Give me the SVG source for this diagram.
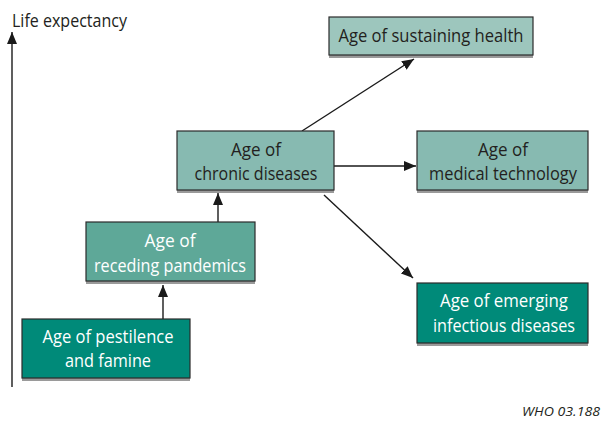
<svg xmlns="http://www.w3.org/2000/svg" width="602" height="423" viewBox="0 0 602 423">
<style>
text{font-family:"Open Sans","Noto Sans","Liberation Sans",sans-serif;font-size:19px}
.b{stroke:#2b2b2b;stroke-width:1.2}
.sh{fill:#9a9a9a}
.c1{fill:#9dc6bd}
.c2{fill:#87bab1}
.c3{fill:#5ea898}
.c4{fill:#008a79}
.dk{fill:#231f20;text-anchor:middle}
.lt{fill:#ffffff;text-anchor:middle}
.ln{stroke:#1a1a1a;stroke-width:1.4;fill:none;marker-end:url(#ah)}
</style>
<defs>
<marker id="ah" viewBox="0 0 12 10" refX="12" refY="5" markerWidth="12" markerHeight="10" markerUnits="userSpaceOnUse" orient="auto">
<path d="M0,0 L12,5 L0,10 Z" fill="#1a1a1a"/>
</marker>
</defs>
<rect width="602" height="423" fill="#ffffff"/>
<g id="axis">
<line x1="12" y1="387" x2="12" y2="32" class="ln"/>
<text x="12" y="27" fill="#231f20" textLength="115" lengthAdjust="spacingAndGlyphs">Life expectancy</text>
</g>
<g id="connectors">
<line x1="163" y1="319" x2="163" y2="285" class="ln"/>
<line x1="218" y1="222" x2="218" y2="193" class="ln"/>
<line x1="302" y1="131" x2="414" y2="59" class="ln"/>
<line x1="334" y1="166" x2="416" y2="166" class="ln"/>
<line x1="324" y1="195" x2="413" y2="278" class="ln"/>
</g>
<g id="n-sustaining">
<rect x="329" y="20" width="204" height="38" class="sh"/>
<rect x="329" y="17" width="204" height="38" class="c1 b"/>
<text x="431" y="42" class="dk" textLength="185" lengthAdjust="spacingAndGlyphs">Age of sustaining health</text>
</g>
<g id="n-chronic">
<rect x="177" y="134" width="157" height="59" class="sh"/>
<rect x="177" y="131" width="157" height="59" class="c2 b"/>
<text x="256" y="156" class="dk" textLength="50" lengthAdjust="spacingAndGlyphs">Age of</text>
<text x="256" y="180" class="dk" textLength="123" lengthAdjust="spacingAndGlyphs">chronic diseases</text>
</g>
<g id="n-medical">
<rect x="417" y="134" width="171" height="59" class="sh"/>
<rect x="417" y="131" width="171" height="59" class="c2 b"/>
<text x="503" y="156" class="dk" textLength="50" lengthAdjust="spacingAndGlyphs">Age of</text>
<text x="503" y="180" class="dk" textLength="148" lengthAdjust="spacingAndGlyphs">medical technology</text>
</g>
<g id="n-receding">
<rect x="86" y="225" width="169" height="59" class="sh"/>
<rect x="86" y="222" width="169" height="59" class="c3 b"/>
<text x="170" y="247" class="lt" textLength="51" lengthAdjust="spacingAndGlyphs">Age of</text>
<text x="170" y="272" class="lt" textLength="152" lengthAdjust="spacingAndGlyphs">receding pandemics</text>
</g>
<g id="n-pestilence">
<rect x="22" y="322" width="168" height="59" class="sh"/>
<rect x="22" y="319" width="168" height="59" class="c4 b"/>
<text x="108" y="343" class="lt" textLength="131" lengthAdjust="spacingAndGlyphs">Age of pestilence</text>
<text x="108" y="367" class="lt" textLength="86" lengthAdjust="spacingAndGlyphs">and famine</text>
</g>
<g id="n-emerging">
<rect x="417" y="286" width="171" height="60" class="sh"/>
<rect x="417" y="283" width="171" height="60" class="c4 b"/>
<text x="504" y="307" class="lt" textLength="128" lengthAdjust="spacingAndGlyphs">Age of emerging</text>
<text x="504" y="332" class="lt" textLength="142" lengthAdjust="spacingAndGlyphs">infectious diseases</text>
</g>
<text x="522" y="416" fill="#231f20" font-style="italic" font-size="13" style="font-size:13px" textLength="78" lengthAdjust="spacingAndGlyphs">WHO 03.188</text>
</svg>
